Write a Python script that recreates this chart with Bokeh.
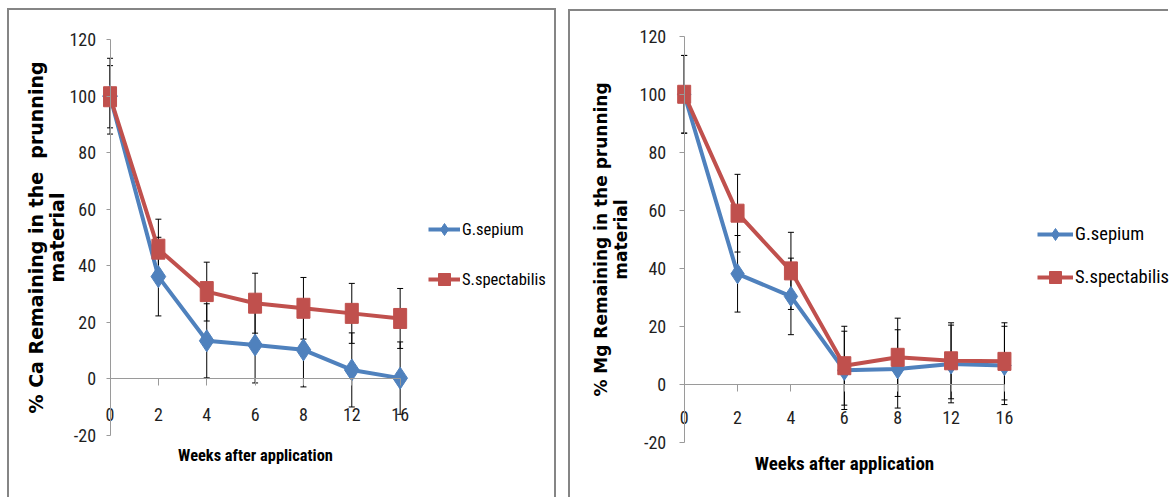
from bokeh.plotting import figure
from bokeh.layouts import row
from bokeh.models import (ColumnDataSource, Range1d, LinearAxis, FixedTicker, Whisker,
                          TeeHead, Legend, LegendItem)
from bokeh.embed import file_html
from bokeh.resources import INLINE

# ---- data ----
weeks = ["0", "2", "4", "6", "8", "12", "16"]
y_ticks = [-20, 0, 20, 40, 60, 80, 100, 120]

ca_gsepium = [100.0, 36.2, 13.5, 12.0, 10.3, 3.2, 0.3]
ca_gsepium_err = [13.4, 13.9, 13.1, 13.4, 13.1, 13.1, 12.8]
ca_sspect = [99.8, 45.9, 30.9, 26.8, 25.0, 23.2, 21.4]
ca_sspect_err = [11.0, 10.6, 10.4, 10.6, 10.9, 10.6, 10.6]

mg_gsepium = [100.0, 38.1, 30.3, 4.8, 5.3, 7.0, 6.5]
mg_gsepium_err = [13.4, 13.2, 13.2, 13.5, 13.5, 13.4, 13.5]
mg_sspect = [100.0, 59.0, 39.1, 6.4, 9.3, 8.1, 7.9]
mg_sspect_err = [13.4, 13.4, 13.3, 13.6, 13.5, 13.1, 13.3]

series_names = ["G.sepium", "S.spectabilis"]
ca_title = "% Ca Remaining in the\u00a0 prunning\nmaterial"
mg_title = "% Mg Remaining in the prunning\nmaterial"
x_title = "Weeks after application"

BLUE = "#4F81BD"
RED = "#C0504D"
AXIS_GRAY = "#9a9a9a"
BORDER = "2px solid #858585"
NARROW = "'Liberation Sans Narrow', 'Roboto Condensed', 'DejaVu Sans Condensed', 'Liberation Sans', sans-serif"
WIDE_BOLD = "'DejaVu Sans', Verdana, sans-serif"


def make_panel(cfg, g, g_err, s, s_err, ylabel):
    # content (canvas) size inside the css borders
    cw = cfg["width"] - cfg["border_lr"]
    ch = cfg["height"] - 2
    # pixel layout -> ranges (frame covers the whole canvas)
    ox, oy = cfg["origin"]            # page position of canvas top-left
    x0_px, x_ppu = cfg["x0_px"], cfg["x_ppu"]
    y120_px, yneg20_px = cfg["y_px"]
    y_ppu = (yneg20_px - y120_px) / 140.0
    x_start = -(x0_px - ox) / x_ppu
    x_end = x_start + cw / x_ppu
    y_top = 120 + (y120_px - oy) / y_ppu
    y_bot = y_top - ch / y_ppu

    p = figure(width=cfg["width"], height=cfg["height"], output_backend="svg",
               toolbar_location=None, title=None,
               x_range=Range1d(x_start, x_end), y_range=Range1d(y_bot, y_top),
               x_axis_type=None, y_axis_type=None,
               min_border=0, min_border_left=0, min_border_right=0,
               min_border_top=0, min_border_bottom=0,
               background_fill_color="white", border_fill_color="white",
               styles=cfg["styles"], margin=cfg["margin"])
    p.outline_line_color = None

    xs = list(range(len(weeks)))

    # x axis crossing at y = 0
    xax = LinearAxis(fixed_location=0, ticker=FixedTicker(ticks=xs, minor_ticks=[]),
                     bounds=(0, len(weeks) - 1),
                     major_label_overrides={i: w for i, w in enumerate(weeks)},
                     axis_label=x_title)
    xax.axis_line_color = AXIS_GRAY
    xax.major_tick_line_color = AXIS_GRAY
    xax.major_tick_in = 0
    xax.major_tick_out = 7
    xax.minor_tick_line_color = None
    xax.major_label_standoff = cfg["x_lab_standoff"]
    xax.major_label_text_font = NARROW
    xax.major_label_text_font_size = cfg["tick_fs"]
    xax.major_label_text_color = "#1e1e1e"
    xax.axis_label_standoff = cfg["x_title_standoff"]
    xax.axis_label_text_font = NARROW
    xax.axis_label_text_font_style = "bold"
    xax.axis_label_text_font_size = cfg["x_title_fs"]
    xax.axis_label_text_color = "black"
    p.add_layout(xax, "below")

    # y axis at x = 0
    yax = LinearAxis(fixed_location=0, ticker=FixedTicker(ticks=y_ticks, minor_ticks=[]),
                     bounds=(-20, 120),
                     major_label_overrides={t: str(t) for t in y_ticks},
                     axis_label=ylabel)
    yax.axis_line_color = AXIS_GRAY
    yax.major_tick_line_color = AXIS_GRAY
    yax.major_tick_in = 0
    yax.major_tick_out = cfg["y_tick_out"]
    yax.minor_tick_line_color = None
    yax.major_label_standoff = cfg["y_lab_standoff"]
    yax.major_label_text_font = NARROW
    yax.major_label_text_font_size = cfg["tick_fs"]
    yax.major_label_text_color = "#1e1e1e"
    yax.axis_label_standoff = cfg["y_title_standoff"]
    yax.axis_label_text_font = WIDE_BOLD
    yax.axis_label_text_font_style = "bold"
    yax.axis_label_text_font_size = cfg["y_title_fs"]
    yax.axis_label_text_line_height = cfg["y_title_lh"]
    yax.axis_label_text_align = "center"
    yax.axis_label_text_color = "black"
    p.add_layout(yax, "left")

    # error bars
    for vals, errs in ((g, g_err), (s, s_err)):
        src = ColumnDataSource(dict(x=xs,
                                    upper=[v + e for v, e in zip(vals, errs)],
                                    lower=[v - e for v, e in zip(vals, errs)]))
        w = Whisker(base="x", upper="upper", lower="lower", source=src,
                    line_color="black", line_width=1, level="underlay",
                    upper_head=TeeHead(size=6, line_color="black", line_width=1),
                    lower_head=TeeHead(size=6, line_color="black", line_width=1))
        p.add_layout(w)

    # series
    gl = p.line(xs, g, line_color=BLUE, line_width=4)
    sl = p.line(xs, s, line_color=RED, line_width=4)
    gm = p.scatter(xs, g, marker="diamond", size=cfg["diamond_size"],
                   fill_color=BLUE, line_color=BLUE)
    p.rect(xs, s, width=13, height=cfg["square_h"], width_units="screen",
           height_units="screen", fill_color=RED, line_color=RED)
    # legend-only square sample (zero size in the plot)
    sm = p.scatter(xs, s, marker="square", size=0, fill_color=RED, line_color=RED)

    lx, ly_top = cfg["legend_tl"]
    leg_h = 30 + cfg["legend_spacing"] + 30
    loc = (lx - ox, (oy + ch) - (ly_top + leg_h))
    legend = Legend(items=[LegendItem(label=series_names[0], renderers=[gl, gm]),
                           LegendItem(label=series_names[1], renderers=[sl, sm])],
                    location=loc, orientation="vertical",
                    glyph_width=cfg["glyph_w"], glyph_height=30,
                    spacing=cfg["legend_spacing"], label_standoff=2,
                    padding=0, margin=0, border_line_color=None,
                    background_fill_alpha=0,
                    label_text_font=NARROW, label_text_font_size=cfg["legend_fs"],
                    label_text_color="black")
    p.add_layout(legend)
    return p


left_cfg = dict(width=549, height=489, border_lr=4, origin=(9, 10), margin=(8, 0, 0, 7),
                styles={"border-top": BORDER, "border-left": BORDER, "border-right": BORDER},
                x0_px=108.8, x_ppu=48.0, y_px=(39.0, 433.3),
                x_lab_standoff=22, x_title_standoff=22, tick_fs="18px", x_title_fs="16.4px",
                y_tick_out=4, y_lab_standoff=10, y_title_standoff=-1, y_title_fs="19px",
                y_title_lh=0.95,
                diamond_size=22, square_h=20, legend_tl=(428, 212), glyph_w=32,
                legend_spacing=20, legend_fs="16.5px")
right_cfg = dict(width=600, height=488, border_lr=2, origin=(570, 11), margin=(9, 0, 0, 0),
                 styles={"border-top": BORDER, "border-left": BORDER},
                 x0_px=683.3, x_ppu=53.2, y_px=(35.7, 440.0),
                 x_lab_standoff=20, x_title_standoff=24, tick_fs="18px", x_title_fs="19px",
                 y_tick_out=5, y_lab_standoff=13, y_title_standoff=6, y_title_fs="17px",
                 y_title_lh=1.0,
                 diamond_size=20, square_h=18, legend_tl=(1037, 217), glyph_w=36,
                 legend_spacing=13, legend_fs="18.5px")

p1 = make_panel(left_cfg, ca_gsepium, ca_gsepium_err, ca_sspect, ca_sspect_err, ca_title)
p2 = make_panel(right_cfg, mg_gsepium, mg_gsepium_err, mg_sspect, mg_sspect_err, mg_title)

layout = row(p1, p2, spacing=12)

with open("out.html", "w") as f:
    f.write(file_html(layout, INLINE))
